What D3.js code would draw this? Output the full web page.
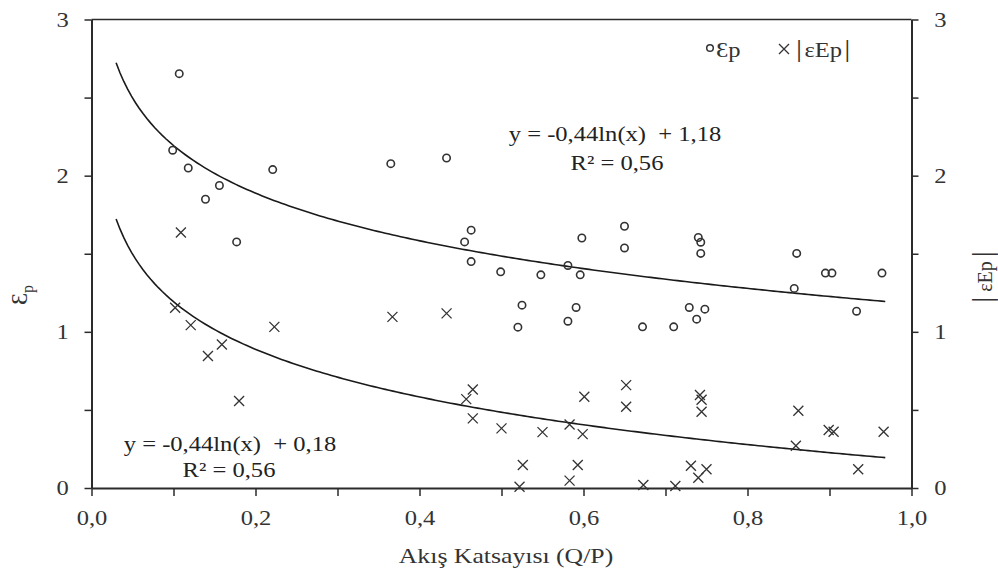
<!DOCTYPE html>
<html>
<head>
<meta charset="utf-8">
<script src="https://cdn.jsdelivr.net/npm/d3@7"></script>
<style>
  body { margin: 0; background: #fff; }
  svg { display: block; font-family: "Liberation Serif", "Times New Roman", serif; }
</style>
</head>
<body>
<svg></svg>
<script>
// εp values (circles)
let epX = [0.107, 0.099, 0.118, 0.156, 0.139, 0.221, 0.177, 0.365, 0.433, 0.463, 0.455, 0.463, 0.499,
           0.548, 0.581, 0.596, 0.598, 0.650, 0.650, 0.525, 0.591, 0.520, 0.581, 0.740, 0.743, 0.743,
           0.860, 0.895, 0.903, 0.964, 0.857, 0.933, 0.729, 0.748, 0.738, 0.710, 0.672],
    epY = [2.653, 2.163, 2.049, 1.937, 1.849, 2.039, 1.576, 2.077, 2.113, 1.651, 1.576, 1.450, 1.384,
           1.365, 1.425, 1.365, 1.601, 1.676, 1.537, 1.171, 1.156, 1.030, 1.068, 1.604, 1.574, 1.502,
           1.502, 1.376, 1.376, 1.376, 1.278, 1.132, 1.156, 1.145, 1.081, 1.032, 1.032];

// |εEp| values (crosses)
let eeX = [0.109, 0.367, 0.433, 0.102, 0.121, 0.142, 0.159, 0.180, 0.223, 0.465, 0.457, 0.465, 0.500,
           0.550, 0.583, 0.599, 0.601, 0.652, 0.652, 0.526, 0.593, 0.522, 0.583, 0.673, 0.742, 0.744,
           0.744, 0.862, 0.899, 0.905, 0.966, 0.859, 0.935, 0.731, 0.750, 0.740, 0.712],
    eeY = [1.636, 1.096, 1.118, 1.154, 1.043, 0.845, 0.919, 0.557, 1.032, 0.631, 0.569, 0.446, 0.382,
           0.358, 0.407, 0.345, 0.584, 0.659, 0.520, 0.147, 0.147, 0.008, 0.047, 0.019, 0.595, 0.565,
           0.488, 0.495, 0.371, 0.360, 0.360, 0.271, 0.120, 0.143, 0.120, 0.066, 0.013];

// trend lines y = a ln(x) + b
let trendA = -0.44, trendB1 = 1.18, trendB2 = 0.18, trendRange = [0.03, 0.968];
let xTicks = [0, 0.1, 0.2, 0.3, 0.4, 0.5, 0.6, 0.7, 0.8, 0.9, 1.0],
    yTicks = [0, 0.5, 1, 1.5, 2, 2.5, 3];

let width = 998, height = 572,
    plotL = 91.5, plotR = 911.5, plotT = 19.5, plotB = 488,
    sx = 1.17,          // the source picture is a bit wider than tall, text looks stretched
    ink = "#2b2b2b";

let xScale = d3.scaleLinear().domain([0, 1]).range([plotL, plotR]),
    yScale = d3.scaleLinear().domain([0, 3]).range([plotB, plotT]),
    y2Scale = d3.scaleLinear().domain([0, 3]).range([plotB, plotT]);

let svg = d3.select("svg").attr("width", width).attr("height", height);

let fmt = d => (Math.round(d * 10) % 2 === 0) ? d3.format(".1f")(d).replace(".", ",") : "",
    fmtY = d => Number.isInteger(d) ? d : "";

let addText = (x, y, str, size, anchor) =>
  svg.append("text")
    .attr("transform", `translate(${x},${y}) scale(${sx},1)`)
    .text(str)
    .style("white-space", "pre")
    .style("font-size", size + "px")
    .style("text-anchor", anchor)
    .attr("fill", "#222");

// frame top line
svg.append("line")
  .attr("x1", plotL).attr("x2", plotR).attr("y1", plotT).attr("y2", plotT)
  .attr("stroke", ink).attr("stroke-width", 1.5);

let xAxis = svg.append("g")
  .attr("transform", `translate(0,${plotB})`)
  .call(d3.axisBottom(xScale).tickValues(xTicks).tickFormat(fmt).tickSize(8).tickSizeOuter(0).tickPadding(14));

let yAxis = svg.append("g")
  .attr("transform", `translate(${plotL},0)`)
  .call(d3.axisLeft(yScale).tickValues(yTicks).tickFormat(fmtY).tickSize(7).tickSizeOuter(0).tickPadding(12.5));

let y2Axis = svg.append("g")
  .attr("transform", `translate(${plotR},0)`)
  .call(d3.axisRight(y2Scale).tickValues(yTicks).tickFormat(fmtY).tickSize(7).tickSizeOuter(0).tickPadding(12.5));

[xAxis, yAxis, y2Axis].forEach(g => {
  g.select(".domain").attr("stroke", ink).attr("stroke-width", 2);
  g.selectAll(".tick line").attr("stroke", ink).attr("stroke-width", 1.5);
  g.selectAll(".tick text")
    .attr("fill", "#333")
    .attr("transform", `scale(${sx},1)`)
    .style("font-size", "21px")
    .style("font-family", "Liberation Serif");
});

// trend curves
let line = d3.line().x(d => xScale(d[0])).y(d => yScale(d[1]));
[trendB1, trendB2].forEach(b => {
  let pts = d3.range(0, 201).map(i => {
    let x = trendRange[0] + (trendRange[1] - trendRange[0]) * i / 200;
    return [x, trendA * Math.log(x) + b];
  });
  svg.append("path")
    .attr("d", line(pts))
    .attr("fill", "none")
    .attr("stroke", "#1a1a1a")
    .attr("stroke-width", 1.6);
});

// circles
svg.selectAll("circle.ep")
  .data(epX.map((x, i) => [x, epY[i]]))
  .enter()
  .append("circle")
  .attr("class", "ep")
  .attr("cx", d => xScale(d[0]))
  .attr("cy", d => yScale(d[1]))
  .attr("r", 3.7)
  .attr("fill", "none")
  .attr("stroke", "#333")
  .attr("stroke-width", 1.6);

// crosses
let crossPath = "M-5,-5L5,5M-5,5L5,-5";
svg.selectAll("path.ee")
  .data(eeX.map((x, i) => [x, eeY[i]]))
  .enter()
  .append("path")
  .attr("class", "ee")
  .attr("transform", d => `translate(${xScale(d[0])},${y2Scale(d[1])})`)
  .attr("d", crossPath)
  .attr("stroke", "#333")
  .attr("stroke-width", 1.3);

// equations
addText(615, 141, "y = -0,44ln(x)  + 1,18", 21, "middle");
addText(617, 170, "R² = 0,56", 21, "middle");
addText(230, 451, "y = -0,44ln(x)  + 0,18", 21, "middle");
addText(229, 477, "R² = 0,56", 21, "middle");

// x axis title
addText(506, 563, "Akış Katsayısı (Q/P)", 22, "middle").attr("fill", "#333");

// left axis title
let yl = svg.append("text")
  .attr("transform", "translate(27,295) rotate(-90)")
  .style("font-size", "24px")
  .style("text-anchor", "middle")
  .attr("fill", "#333");
yl.append("tspan").text("Ɛ");
yl.append("tspan").text("p").attr("dy", 6).style("font-size", "16px");

// right axis title
let yr = svg.append("text")
  .attr("transform", "translate(992,277) rotate(-90)")
  .style("text-anchor", "middle")
  .attr("fill", "#333");
yr.append("tspan").text("|").style("font-size", "30px");
yr.append("tspan").text("εEp").attr("dx", 5).style("font-size", "20px");
yr.append("tspan").text("|").attr("dx", 4).style("font-size", "30px");

// legend
svg.append("circle")
  .attr("cx", 710).attr("cy", 48).attr("r", 3.3)
  .attr("fill", "none").attr("stroke", "#333").attr("stroke-width", 1.5);
addText(716, 57, "Ɛp", 21, "start").attr("fill", "#333");
svg.append("path")
  .attr("transform", "translate(784,49)")
  .attr("d", "M-5,-5L5,5M-5,5L5,-5")
  .attr("stroke", "#333").attr("stroke-width", 1.3);
let lg = addText(796, 57, "", 21, "start").attr("fill", "#333");
lg.append("tspan").text("|").style("font-size", "26px");
lg.append("tspan").text("εEp").attr("dx", 2);
lg.append("tspan").text("|").attr("dx", 2).style("font-size", "26px");
</script>
</body>
</html>
